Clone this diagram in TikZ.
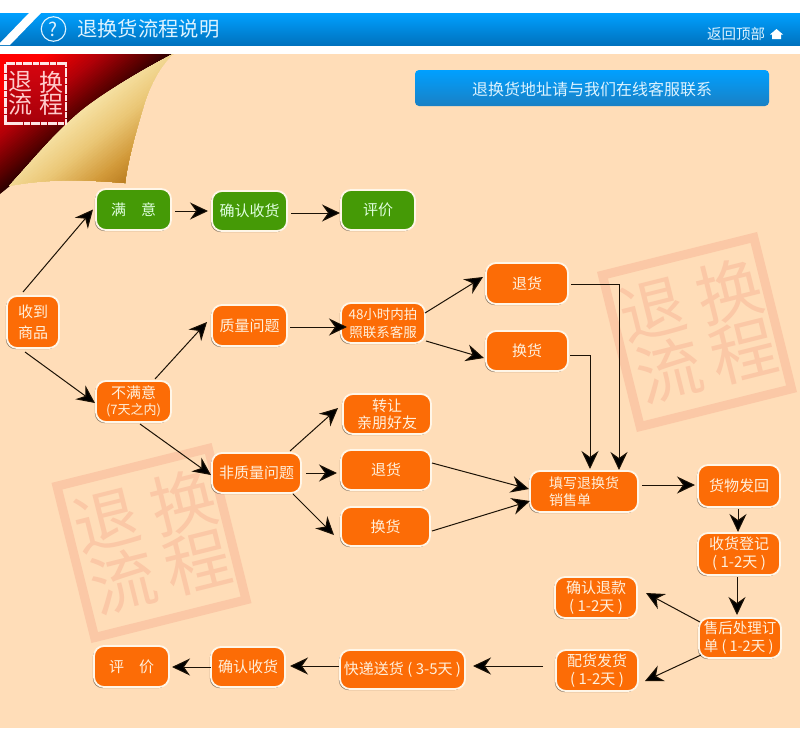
\documentclass[tikz,border=0pt]{standalone}
\usepackage{fontspec}
\setmainfont{Noto Sans CJK SC}
\usetikzlibrary{arrows.meta,calc,shadows}
\definecolor{peach}{HTML}{FFDDB8}
\definecolor{wmark}{HTML}{FBC8A6}
\definecolor{orangebox}{HTML}{FC6C06}
\definecolor{greenbox}{HTML}{459A06}
\definecolor{boxedge}{HTML}{FFF6E8}
\definecolor{boxtext}{HTML}{FFF0DC}
\definecolor{linec}{HTML}{1C1206}
\definecolor{bluetop}{HTML}{00A0FF}
\definecolor{bluebot}{HTML}{0072BE}
\definecolor{bannertext}{HTML}{DDF3FF}
\definecolor{ra}{HTML}{FF0000}
\definecolor{rb}{HTML}{B00008}
\definecolor{rc}{HTML}{600000}
\definecolor{rd}{HTML}{2E0000}
\definecolor{ga}{HTML}{F8E4A8}
\definecolor{gb}{HTML}{EBC878}
\definecolor{gc}{HTML}{D29A3A}
\definecolor{gd}{HTML}{B27216}
\newcommand{\fsz}[2]{\fontsize{#1pt}{#2pt}\selectfont}
\tikzset{
  flowbox/.style={rectangle,rounded corners=10pt,draw=boxedge,line width=1.8pt,fill=orangebox,
    text=boxtext,align=center,inner sep=0pt,font=\fsz{15}{19},
    drop shadow={shadow xshift=-1.2pt,shadow yshift=-1.2pt,opacity=.45,fill=black}},
  greenflow/.style={flowbox,fill=greenbox,text={white!88!green}},
  arr/.style={draw=linec,line width=1pt,-{Stealth[length=18pt,width=17pt,inset=6pt,fill=black]}},
  wmtext/.style={text=wmark,font=\fsz{66}{66},inner sep=0pt},
  stamptext/.style={text={white!80!red},font=\fsz{24}{24},inner sep=0pt},
}
\begin{document}
\begin{tikzpicture}[x=1pt,y=-1pt]
\useasboundingbox (0,0) rectangle (800,737);
\fill[white] (0,0) rectangle (800,737);
% banner
\shade[top color=bluetop,bottom color=bluebot] (0,13) rectangle (800,45);
\fill[white] (29,13) -- (41,13) -- (10,45) -- (0,45) -- (0,43) -- cycle;
\node[circle,draw=bannertext,line width=1.1pt,minimum size=24.5pt,inner sep=0pt,text=bannertext,font=\fsz{19}{19}] (qmark) at (53.5,29) {?};
\node[text=bannertext,font=\fsz{20.3}{20},anchor=west,inner sep=0pt] (title) at (77,29) {退换货流程说明};
\node[text=bannertext,font=\fsz{14.5}{15},anchor=west,inner sep=0pt] (top) at (707,34) {返回顶部};
\fill[white] (770,34.5) -- (776.5,29) -- (783,34.5) -- (781,34.5) -- (781,39) -- (772,39) -- (772,34.5) -- cycle;
% page
\fill[peach] (0,54) rectangle (800,728);
% watermarks
\foreach \cx/\cy in {697/332,151.5/543}{
\begin{scope}[shift={(\cx,\cy)},rotate=14,transform shape]
  \draw[wmark,line width=9pt] (-78,-78) rectangle (78,78);
  \node[wmtext] at (-38,-32) {退};
  \node[wmtext] at (41,-32) {换};
  \node[wmtext] at (-36,30) {流};
  \node[wmtext] at (40,30) {程};
\end{scope}}
% corner: red triangle, painted from the fold inwards
\foreach \sa/\sb/\ca/\cb in {1/.85/rd/rc,.85/.6/rc/rb,.6/.28/rb/ra}{
  \foreach \i in {0,...,14}{
    \pgfmathsetmacro\ss{\sa+(\sb-\sa)*\i/14}
    \pgfmathsetmacro\pp{100*\i/14}
    \fill[\cb!\pp!\ca] (0,54) -- ({173*\ss},54) -- (0,{54+140*\ss}) -- cycle;
  }}
% corner: gold fold
\begin{scope}
\clip (173,54) .. controls (150,66) and (118,84) .. (90,104) .. controls (60,126) and (35,158) .. (9,186)
  .. controls (50,178) and (90,180) .. (125,183) .. controls (128,160) and (135,135) .. (143,108)
  .. controls (148,90) and (158,68) .. cycle;
\foreach \sa/\sb/\ca/\cb in {0/.35/ga/gb,.35/.7/gb/gc,.7/1/gc/gd}{
  \foreach \i in {0,...,14}{
    \pgfmathsetmacro\ss{\sa+(\sb-\sa)*\i/14}
    \pgfmathsetmacro\pp{100*\i/14}
    \pgfmathsetmacro\qx{70+65*\ss}
    \pgfmathsetmacro\qy{115+70*\ss}
    \fill[\cb!\pp!\ca] ({\qx-200},{\qy+162}) -- ({\qx+200},{\qy-162}) -- ({\qx+400},{\qy+85}) -- ({\qx},{\qy+409}) -- cycle;
  }}
\end{scope}
\shade[top color={rgb,255:red,215;green,5;blue,15},bottom color={rgb,255:red,165;green,0;blue,10}] (5,63) rectangle (66,124);
\draw[white!90!red,line width=2.4pt,dash pattern=on 3pt off .4pt] (5.5,63.5) rectangle (66,123.5);
\node[stamptext] at (21,82) {退};
\node[stamptext] at (51,82) {换};
\node[stamptext] at (21,104.5) {流};
\node[stamptext] at (51,104.5) {程};
% address button
\shade[top color=bluetop,bottom color=bluebot!90!white,rounded corners=4pt] (415,70) rectangle (769,106);
\node[text=bannertext,font=\fsz{16}{16},inner sep=0pt] (addr) at (592,89) {退换货地址请与我们在线客服联系};
% boxes
\node[greenflow,minimum width=75pt,minimum height=41pt] (man) at (133.5,209.5) {满　意};
\node[greenflow,minimum width=75pt,minimum height=40pt] (qr) at (249.5,211) {确认收货};
\node[greenflow,minimum width=74pt,minimum height=40pt] (pj) at (378,210) {评价};
\node[flowbox,minimum width=52pt,minimum height=52pt,font=\fsz{15}{21}] (sd) at (33,322) {收到\\商品};
\node[flowbox,minimum width=75pt,minimum height=41pt,font=\fsz{15}{16}] (bm) at (133.5,401.5) {不满意\\{\fsz{13}{16}(7天之内)}};
\node[flowbox,minimum width=75pt,minimum height=41pt] (zl) at (249.5,325.5) {质量问题};
\node[flowbox,minimum width=84pt,minimum height=40pt,font=\fsz{13.5}{18}] (h48) at (383,323) {48小时内拍\\照联系客服};
\node[flowbox,minimum width=88pt,minimum height=40pt,font=\fsz{15}{17}] (zr) at (387,414) {转让\\亲朋好友};
\node[flowbox,minimum width=90pt,minimum height=40pt] (tm) at (386,470) {退货};
\node[flowbox,minimum width=89pt,minimum height=39pt] (hm) at (385.5,526.5) {换货};
\node[flowbox,minimum width=89pt,minimum height=40pt] (fz) at (256.5,473) {非质量问题};
\node[flowbox,minimum width=82pt,minimum height=41pt] (tt) at (527,283.5) {退货};
\node[flowbox,minimum width=82pt,minimum height=40pt] (ht) at (527,351) {换货};
\node[flowbox,minimum width=108pt,minimum height=41pt,align=left,font=\fsz{14}{16.5}] (tx) at (584,491.5) {填写退换货\\销售单};
\node[flowbox,minimum width=82pt,minimum height=42pt] (hw) at (739,486) {货物发回};
\node[flowbox,minimum width=82pt,minimum height=42pt,font=\fsz{15}{18}] (sh) at (739,554) {收货登记\\( 1-2天 )};
\node[flowbox,minimum width=82pt,minimum height=41pt,font=\fsz{15}{18}] (qt) at (596,597.5) {确认退款\\( 1-2天 )};
\node[flowbox,minimum width=82pt,minimum height=40pt,align=left,font=\fsz{14.5}{18}] (sc) at (740,638) {售后处理订\\单 ( 1-2天 )};
\node[flowbox,minimum width=82pt,minimum height=41pt,font=\fsz{15}{18}] (ph) at (597,670.5) {配货发货\\( 1-2天 )};
\node[flowbox,minimum width=125pt,minimum height=39pt] (kd) at (402.5,669.5) {快递送货 ( 3-5天 )};
\node[flowbox,minimum width=74pt,minimum height=40pt] (qb) at (248,667) {确认收货};
\node[flowbox,minimum width=75pt,minimum height=41pt] (pb) at (131.5,666.5) {评　价};
% connectors
\draw[arr] ($(sd)+(-10,-30)$) -- ($(man)+(-40.5,0)$);
\draw[arr] ($(sd)+(-8,30)$) -- ($(bm)+(-38.5,1.5)$);
\draw[arr] ($(bm)+(21.5,-22.5)$) -- ($(zl)+(-42.5,-3.5)$);
\draw[arr] ($(zl)+(40.5,1.5)$) -- ($(h48)+(-36,4)$);
\draw[arr] ($(bm)+(6.5,22.5)$) -- ($(fz)+(-45.5,2)$);
\draw[arr] ($(fz)+(33.5,-22)$) -- ($(zr)+(-49,-6)$);
\draw[arr] ($(fz)+(49.5,0)$) -- ($(tm)+(-49,3)$);
\draw[arr] ($(fz)+(36.5,21)$) -- ($(hm)+(-51.5,8.5)$);
\draw[arr] ($(h48)+(42,-10)$) -- ($(tt)+(-44,-6.5)$);
\draw[arr] ($(h48)+(43,18)$) -- ($(ht)+(-43,7)$);
\draw[arr] ($(tm)+(46,-7)$) -- ($(tx)+(-55,-2.5)$);
\draw[arr] ($(hm)+(46.5,4.5)$) -- ($(tx)+(-54,9.5)$);
\draw[arr] ($(tx)+(58,-6.5)$) -- ($(hw)+(-44,-1)$);
\draw[arr] ($(hw)+(-1,23)$) -- ($(sh)+(-1,-22)$);
\draw[arr] ($(sh)+(-2,23)$) -- ($(sc)+(-3,-23)$);
\draw[arr] ($(sc)+(-40,-16)$) -- ($(qt)+(50,-4.5)$);
\draw[arr] ($(sc)+(-39,17)$) -- ($(ph)+(48,10.5)$);
\draw[arr] ($(ph)+(-54,-4.5)$) -- ($(kd)+(70.5,-3.5)$);
\draw[arr] ($(kd)+(-63.5,-3.5)$) -- ($(qb)+(42,-1)$);
\draw[arr] ($(qb)+(-37,0)$) -- ($(pb)+(40.5,.5)$);
\draw[arr] ($(man)+(41.5,1.5)$) -- ($(qr)+(-41.5,0)$);
\draw[arr] ($(qr)+(41.5,2)$) -- ($(pj)+(-38,3)$);
\draw[arr] ($(tt)+(44,.5)$) -| ($(tx)+(35,-21.5)$);
\draw[arr] ($(ht)+(43,4)$) -| ($(tx)+(6,-22.5)$);
\end{tikzpicture}
\end{document}
